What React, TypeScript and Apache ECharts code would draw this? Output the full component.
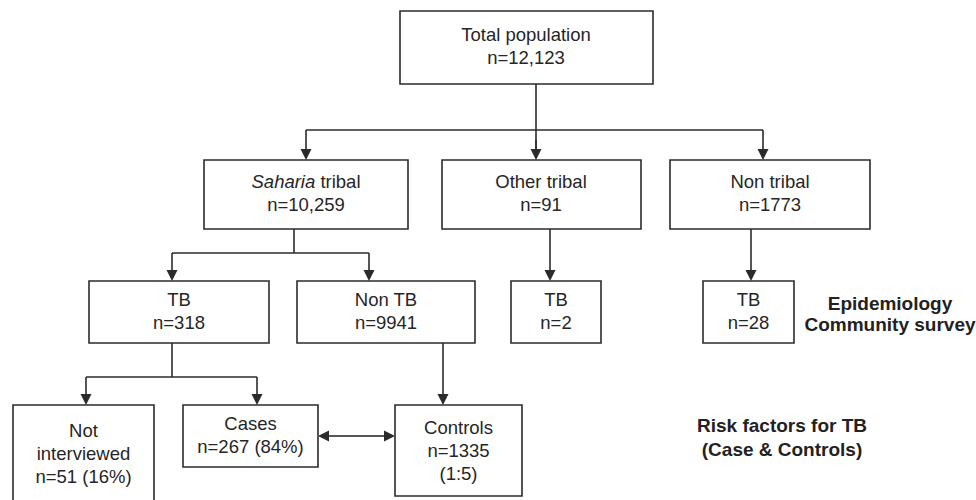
import React, { useEffect, useRef } from "react";
import * as echarts from "echarts";

// ---- Data ----
const nodeTitles = [
  "Total population",
  "{i|Saharia} tribal",
  "Other tribal",
  "Non tribal",
  "TB",
  "Non TB",
  "TB",
  "TB",
  "Not\ninterviewed",
  "Cases",
  "Controls",
];
const nodeCounts = ["12,123", "10,259", "91", "1773", "318", "9941", "2", "28", "51", "267", "1335"];
const nodeNotes = ["", "", "", "", "", "", "", "", " (16%)", " (84%)", "\n(1:5)"];
const annotations = ["Epidemiology\nCommunity survey", "Risk factors for TB\n(Case & Controls)"];

// ---- Layout (positions only) ----
const boxes: number[][] = [
  [400, 11, 653, 84],
  [204, 160, 408, 229],
  [442, 160, 641, 229],
  [670, 160, 870, 229],
  [89, 281, 269, 343],
  [297, 281, 475, 343],
  [511, 281, 601, 343],
  [703, 281, 794, 343],
  [13, 405, 154, 506],
  [183, 405, 318, 467],
  [395, 405, 522, 496],
];
const textCenters: number[][] = [
  [526, 46],
  [306, 193],
  [541, 193],
  [770, 193],
  [179, 310.5],
  [386, 310.5],
  [556, 310.5],
  [748.5, 310.5],
  [83.5, 453.5],
  [250.5, 434.5],
  [458.5, 450],
];
// plain lines (no arrowheads)
const lines: number[][][] = [
  [[536, 84], [536, 151]],
  [[306, 130], [763, 130]],
  [[294, 229], [294, 253]],
  [[172, 253], [369, 253]],
  [[172, 343], [172, 377]],
  [[86, 377], [257, 377]],
];
// arrows: [x1,y1,x2,y2], arrowhead at end
const arrows: number[][] = [
  [306, 130, 306, 160],
  [763, 130, 763, 160],
  [536, 140, 536, 160],
  [172, 253, 172, 281],
  [369, 253, 369, 281],
  [550, 229, 550, 281],
  [751, 229, 751, 281],
  [86, 377, 86, 405],
  [257, 377, 257, 405],
  [443, 343, 443, 405],
  [356, 436, 395, 436],
  [356, 436, 318, 436],
];

const INK = "#2b2b2b";
const FONT = "'Liberation Sans', Arial, sans-serif";

function head(x1: number, y1: number, x2: number, y2: number) {
  const dx = x2 - x1;
  const dy = y2 - y1;
  const len = Math.sqrt(dx * dx + dy * dy) || 1;
  const ux = dx / len;
  const uy = dy / len;
  const L = 11;
  const W = 5.5;
  const bx = x2 - ux * L;
  const by = y2 - uy * L;
  return [
    [x2, y2],
    [bx - uy * W, by + ux * W],
    [bx + uy * W, by - ux * W],
  ];
}

export default function App() {
  const ref = useRef<HTMLDivElement>(null);
  useEffect(() => {
    document.body.style.margin = "0";
    if (!ref.current) return;
    const chart = echarts.init(ref.current, undefined, { renderer: "svg" });
    const elements: any[] = [];
    boxes.forEach((b) => {
      elements.push({
        type: "rect",
        shape: { x: b[0], y: b[1], width: b[2] - b[0], height: b[3] - b[1] },
        style: { fill: "#fff", stroke: INK, lineWidth: 1.6 },
      });
    });
    lines.forEach((pts) => {
      elements.push({
        type: "polyline",
        shape: { points: pts },
        style: { stroke: INK, lineWidth: 1.6, fill: null },
      });
    });
    arrows.forEach((a) => {
      const h = head(a[0], a[1], a[2], a[3]);
      const dx = a[2] - a[0];
      const dy = a[3] - a[1];
      const len = Math.sqrt(dx * dx + dy * dy);
      const ex = a[2] - (dx / len) * 9;
      const ey = a[3] - (dy / len) * 9;
      elements.push({
        type: "line",
        shape: { x1: a[0], y1: a[1], x2: ex, y2: ey },
        style: { stroke: INK, lineWidth: 1.6 },
      });
      elements.push({
        type: "polygon",
        shape: { points: h },
        style: { fill: INK, stroke: null },
      });
    });
    nodeTitles.forEach((t, i) => {
      const c = textCenters[i];
      elements.push({
        type: "text",
        x: c[0],
        y: c[1],
        style: {
          text: t + "\nn=" + nodeCounts[i] + nodeNotes[i],
          fill: "#262626",
          fontSize: 18.5,
          fontFamily: FONT,
          align: "center",
          verticalAlign: "middle",
          lineHeight: 23,
          rich: {
            i: { fontStyle: "italic", fontSize: 18.5, fontFamily: FONT, fill: "#262626", lineHeight: 23 },
          },
        },
      });
    });
    const annPos = [
      [890, 313.5, 21],
      [782, 437, 24],
    ];
    annotations.forEach((t, i) => {
      elements.push({
        type: "text",
        x: annPos[i][0],
        y: annPos[i][1],
        style: {
          text: t,
          fill: "#222",
          fontSize: 19,
          fontWeight: "bold",
          fontFamily: FONT,
          align: "center",
          verticalAlign: "middle",
          lineHeight: annPos[i][2],
        },
      });
    });
    chart.setOption({
      animation: false,
      backgroundColor: "#ffffff",
      graphic: { elements },
    });
    return () => chart.dispose();
  }, []);
  return <div ref={ref} style={{ width: 976, height: 500 }} />;
}
